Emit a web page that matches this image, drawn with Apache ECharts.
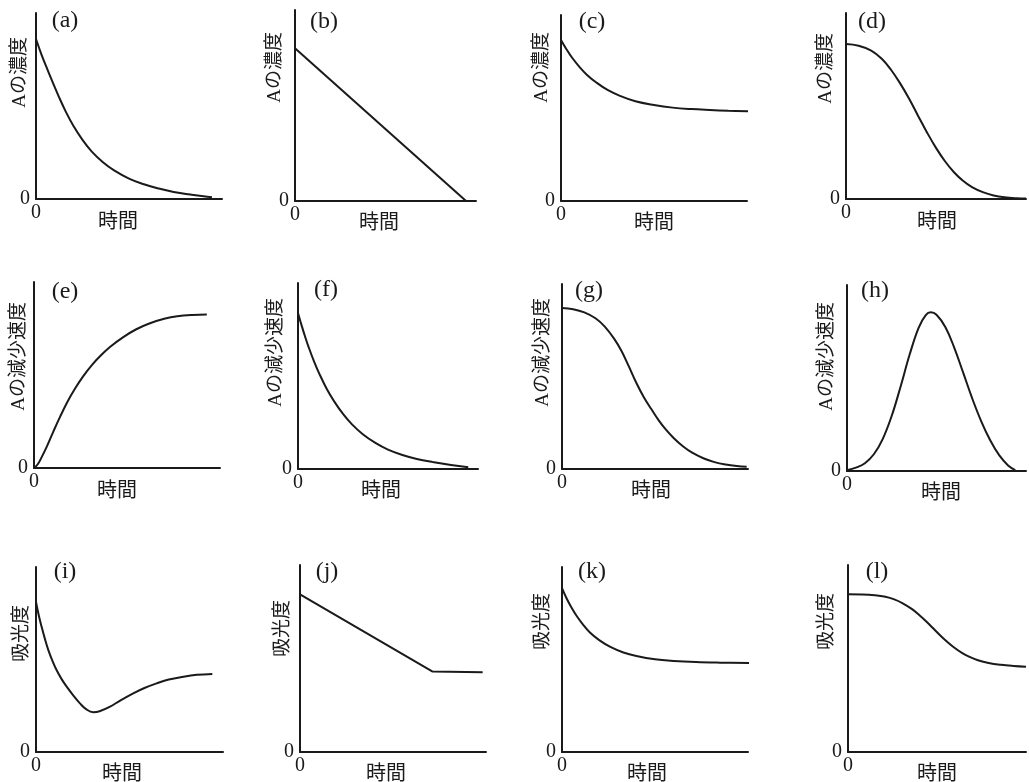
<!DOCTYPE html>
<html>
<head>
<meta charset="utf-8">
<script src="https://cdn.jsdelivr.net/npm/echarts@6/dist/echarts.min.js"></script>
<style>
  html, body { margin: 0; background: #fff; }
  #chart { width: 1029px; height: 782px; }
</style>
</head>
<body>
<div id="chart"></div>
<script>
// panel letters and axis titles
const panelLetters = ['(a)', '(b)', '(c)', '(d)', '(e)', '(f)', '(g)', '(h)', '(i)', '(j)', '(k)', '(l)']
const yTitles = [
  'Aの濃度', 'Aの濃度', 'Aの濃度', 'Aの濃度',
  'Aの減少速度', 'Aの減少速度', 'Aの減少速度', 'Aの減少速度',
  '吸光度', '吸光度', '吸光度', '吸光度'
]
const xTitle = '時間'
const tickLabels = ['0']

// curves, [time %, value %]
const curveA = [[0, 86], [3, 77.5], [6.6, 68.5], [9.5, 61.5], [12.5, 54.5], [16, 47], [20, 39.5], [25, 31.8], [30, 25.5], [36, 19.8], [42, 15.4], [50, 11], [58, 7.9], [66, 5.6], [74, 3.8], [82, 2.5], [90, 1.5], [94.6, 1]]
const curveB = [[0, 80], [94.5, 0]]
const curveC = [[0, 86.6], [3, 81.5], [6, 77], [10, 72], [14, 67.8], [19, 63.7], [25, 59.7], [32, 56.4], [40, 53.6], [50, 51.6], [60, 50.2], [70, 49.4], [80, 48.9], [90, 48.5], [101.6, 48.2]]
const curveD = [[0, 83.3], [7, 82.4], [14, 79.8], [20, 75.3], [25, 69.5], [30, 62.3], [35, 54], [40, 44.8], [45, 35.8], [50, 27.5], [55, 20.3], [60, 14.4], [65, 9.8], [70, 6.4], [76, 3.7], [82, 1.9], [88, 0.9], [95, 0.4], [100, 0.3]]
const curveE = [[0, 0], [2, 2], [4, 5.6], [7, 11.8], [10.4, 19.6], [14, 27.5], [18, 35.6], [22, 42.6], [26.5, 49.4], [31, 55.2], [36, 60.6], [41, 65.2], [48, 70.4], [55, 74.6], [62, 77.7], [70, 80.2], [77, 81.6], [85, 82.3], [92.9, 82.5]]
const curveF = [[0, 83.9], [2, 77.2], [4, 71], [6, 65.3], [9, 57.6], [12, 50.9], [16, 43], [20, 36.5], [25, 29.6], [30, 24], [36, 18.7], [43, 14], [50, 10.4], [58, 7.5], [66, 5.4], [75, 3.7], [85, 2.1], [94.6, 1]]
const curveG = [[0, 87], [6, 86.4], [12, 84.7], [18, 81.5], [23, 77], [28, 70.5], [32, 63.8], [36, 55.3], [40, 46.5], [44, 38.8], [48, 32.4], [52, 26.3], [56, 21.1], [60, 16.8], [65, 12.3], [70, 8.8], [76, 5.8], [82, 3.7], [88, 2.4], [94, 1.6], [99.3, 1.2]]
const curveH = [[0, 0.4], [5, 1.8], [10, 4.2], [15, 9], [20, 17.3], [25, 29.7], [30, 45.6], [35, 62.6], [40, 77], [44, 83.8], [46.8, 85.3], [50, 84], [55, 77.3], [60, 66.1], [65, 52.6], [70, 38.9], [75, 26.7], [80, 16.5], [85, 8.5], [90, 3], [94, 0.5]]
const curveI = [[0, 81.1], [1.5, 73.8], [3, 67.7], [4.8, 61], [6.6, 55.1], [8.8, 49.3], [11, 44.3], [13.7, 39.4], [16.4, 35.3], [20, 30.5], [23.5, 26.3], [27, 23], [30.6, 21.5], [34, 22], [39.6, 24.5], [45, 27.8], [52, 31.7], [58, 34.6], [64.5, 37.1], [71, 39.2], [78.8, 40.7], [86, 41.7], [94.3, 42.2]]
const curveJ = [[0, 84.3], [71.3, 43], [98.2, 42.6]]
const curveK = [[0, 88.6], [2.5, 83], [5, 78.3], [8, 73.4], [11, 69.3], [15, 64.6], [20, 60.5], [26, 56.8], [33, 53.8], [40, 51.9], [50, 50.1], [60, 49.2], [72, 48.6], [85, 48.3], [102.3, 48.1]]
const curveL = [[0, 84.3], [8, 84.2], [15, 83.8], [21, 83], [26, 81.6], [31, 79.4], [36, 76.4], [40, 73.3], [44, 69.8], [48, 66], [52, 62.2], [56, 58.7], [60, 55.6], [64, 53], [68, 51], [73, 49.1], [79, 47.6], [86, 46.6], [93, 46], [100, 45.6]]

const curves = [curveA, curveB, curveC, curveD, curveE, curveF, curveG, curveH, curveI, curveJ, curveK, curveL]
const straight = [false, true, false, false, false, false, false, false, false, true, false, false]

// layout: grid box, then where the titles sit
const layout = [
  { left: 36, top: 13, width: 186, height: 186, letterX: 65, letterY: 21, yTitleX: 20, yTitleTop: 37, timeX: 118, timeY: 223 },
  { left: 295, top: 10, width: 181, height: 191, letterX: 324, letterY: 22, yTitleX: 275, yTitleTop: 32, timeX: 379, timeY: 224 },
  { left: 561, top: 15, width: 186, height: 186, letterX: 592, letterY: 22, yTitleX: 542, yTitleTop: 32, timeX: 654, timeY: 224 },
  { left: 846, top: 13, width: 186, height: 186, letterX: 872, letterY: 22, yTitleX: 826, yTitleTop: 33, timeX: 937, timeY: 223 },
  { left: 34, top: 282, width: 186, height: 186, letterX: 65, letterY: 292, yTitleX: 19, yTitleTop: 302, timeX: 117, timeY: 492 },
  { left: 298, top: 283, width: 180, height: 186, letterX: 326, letterY: 290, yTitleX: 276, yTitleTop: 298, timeX: 381, timeY: 492 },
  { left: 562, top: 284, width: 186, height: 185, letterX: 589, letterY: 291, yTitleX: 543, yTitleTop: 298, timeX: 651, timeY: 492 },
  { left: 847, top: 285, width: 186, height: 186, letterX: 875, letterY: 291, yTitleX: 827, yTitleTop: 302, timeX: 941, timeY: 494 },
  { left: 36, top: 567, width: 187, height: 185, letterX: 65, letterY: 572, yTitleX: 22, yTitleTop: 605, timeX: 122, timeY: 775 },
  { left: 300, top: 565, width: 186, height: 187, letterX: 327, letterY: 572, yTitleX: 283, yTitleTop: 600, timeX: 386, timeY: 775 },
  { left: 562, top: 567, width: 186, height: 185, letterX: 592, letterY: 572, yTitleX: 543, yTitleTop: 593, timeX: 647, timeY: 775 },
  { left: 848, top: 565, width: 186, height: 187, letterX: 877, letterY: 572, yTitleX: 827, yTitleTop: 593, timeX: 937, timeY: 775 }
]

const serif = "'Liberation Serif', 'Noto Sans CJK JP', serif"
const ink = '#1a1a1a'

const chart = echarts.init(document.getElementById('chart'))

const grids = []
const xAxes = []
const yAxes = []
const series = []
const graphics = []

layout.forEach((p, i) => {
  grids.push({ left: p.left, top: p.top, width: p.width, height: p.height })

  const axisCommon = {
    gridIndex: i,
    type: 'value',
    min: 0,
    max: 100,
    interval: 100,
    axisLine: { show: true, onZero: false, lineStyle: { color: ink, width: 2 } },
    axisTick: { show: false },
    splitLine: { show: false },
    axisLabel: {
      color: ink,
      fontSize: 20,
      fontFamily: serif,
      formatter: v => (v === 0 ? tickLabels[0] : '')
    }
  }
  xAxes.push(Object.assign({}, axisCommon, {
    axisLabel: Object.assign({}, axisCommon.axisLabel, { margin: 4 })
  }))
  yAxes.push(Object.assign({}, axisCommon, {
    axisLabel: Object.assign({}, axisCommon.axisLabel, { margin: 6 })
  }))

  series.push({
    type: 'line',
    xAxisIndex: i,
    yAxisIndex: i,
    data: curves[i],
    smooth: straight[i] ? false : 0.4,
    showSymbol: false,
    clip: false,
    lineStyle: { color: ink, width: 2 }
  })

  graphics.push({
    type: 'text',
    x: p.letterX,
    y: p.letterY,
    style: {
      text: panelLetters[i],
      font: '24px ' + serif,
      fill: ink,
      align: 'center',
      verticalAlign: 'middle',
      textAlign: 'center',
      textVerticalAlign: 'middle'
    }
  })
  graphics.push({
    type: 'text',
    x: p.yTitleX,
    y: p.yTitleTop,
    rotation: Math.PI / 2,
    style: {
      text: yTitles[i],
      font: '19px ' + serif,
      fill: ink,
      align: 'right',
      verticalAlign: 'middle',
      textAlign: 'right',
      textVerticalAlign: 'middle'
    }
  })
  graphics.push({
    type: 'text',
    x: p.timeX,
    y: p.timeY,
    style: {
      text: xTitle,
      font: '20px ' + serif,
      fill: ink,
      align: 'center',
      verticalAlign: 'middle',
      textAlign: 'center',
      textVerticalAlign: 'middle'
    }
  })
})

chart.setOption({
  animation: false,
  backgroundColor: '#fff',
  grid: grids,
  xAxis: xAxes,
  yAxis: yAxes,
  series: series,
  graphic: graphics
})
</script>
</body>
</html>
